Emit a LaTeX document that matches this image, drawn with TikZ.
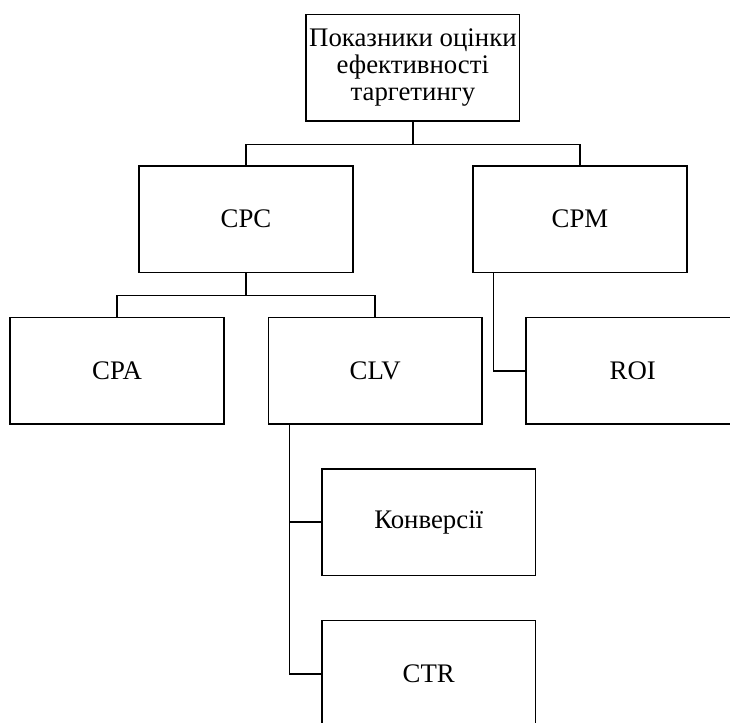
\documentclass[tikz,border=0pt]{standalone}
\usepackage{fontspec}
\setmainfont{Liberation Serif}
\usetikzlibrary{calc, positioning}

\begin{document}
\begin{tikzpicture}[x=1pt,y=-1pt,
  box/.style={draw,line width=1.6pt,minimum width=213.5pt,minimum height=106.5pt,
    align=center,inner sep=2pt,font=\fontsize{26.8}{27}\selectfont},
  link/.style={line width=1.6pt}]
\useasboundingbox (0,0) rectangle (730,722);
\clip (0,0) rectangle (730,722);

\node[box] (top) at (412.9,67.9) {Показники оцінки\\ефективності\\таргетингу};
\node[box] (cpc) at (246,219.2) {CPC};
\node[box] (cpm) at (580,219.2) {CPM};
\node[box] (cpa) at (117,370.7) {CPA};
\node[box] (clv) at (375.2,370.7) {CLV};
\node[box] (roi) at (632.7,370.7) {ROI};
\node[box] (conv) at (428.7,522.2) {Конверсії};
\node[box] (ctr) at (428.7,673.8) {CTR};

\draw[link] (top.south) -- ++(0,22.6) coordinate (tj);
\draw[link] (tj) -| (cpc.north);
\draw[link] (tj) -| (cpm.north);
\draw[link] (cpc.south) -- ++(0,22.3) coordinate (cj);
\draw[link] (cj) -| (cpa.north);
\draw[link] (cj) -| (clv.north);
\draw[link] ([xshift=21pt]cpm.south west) |- (roi.west);
\draw[link] ([xshift=22pt]clv.south west) |- (conv.west);
\draw[link] ([xshift=22pt]clv.south west) |- (ctr.west);
\end{tikzpicture}
\end{document}
